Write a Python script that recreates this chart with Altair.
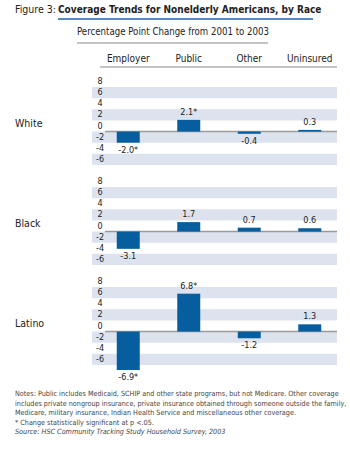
import altair as alt
import pandas as pd

# ---- data ----
categories = ["Employer", "Public", "Other", "Uninsured"]
groups = ["White", "Black", "Latino"]
white_vals = [-2.0, 2.1, -0.4, 0.3]
black_vals = [-3.1, 1.7, 0.7, 0.6]
latino_vals = [-6.9, 6.8, -1.2, 1.3]
white_labels = ["-2.0*", "2.1*", "-0.4", "0.3"]
black_labels = ["-3.1", "1.7", "0.7", "0.6"]
latino_labels = ["-6.9*", "6.8*", "-1.2", "1.3"]
y_ticks = [8, 6, 4, 2, 0, -2, -4, -6]
band_lo = [6, 2, -2, -6]
band_hi = [8, 4, 0, -4]

title_prefix = "Figure 3:"
title_main = "Coverage Trends for Nonelderly Americans, by Race"
subtitle = "Percentage Point Change from 2001 to 2003"
notes_lines = [
    "Notes: Public includes Medicaid, SCHIP and other state programs, but not Medicare. Other coverage",
    "includes private nongroup insurance, private insurance obtained through someone outside the family,",
    "Medicare, military insurance, Indian Health Service and miscellaneous other coverage.",
    "* Change statistically significant at p <.05.",
]
source_line = "Source: HSC Community Tracking Study Household Survey, 2003"

# ---- style ----
FONT = "Liberation Sans Narrow, DejaVu Sans Condensed, Roboto Condensed, Liberation Sans, sans-serif"
BLUE = "#065e9e"
BAND = "#dde3ee"
TXT = "#222222"
W = 350
PH = 78

xscale = alt.Scale(domain=categories, range=[98, 340], paddingInner=0, paddingOuter=0)
yscale = alt.Scale(domain=[-6, 8], nice=False, zero=False)


def panel(name, vals, labs):
    df = pd.DataFrame({"category": categories, "value": vals, "label": labs})
    bands_df = pd.DataFrame({"lo": band_lo, "hi": band_hi})
    ticks_df = pd.DataFrame({"tick": y_ticks, "txt": [str(t) for t in y_ticks]})

    bands = alt.Chart(bands_df).mark_rect(color=BAND).encode(
        y=alt.Y("lo:Q", scale=yscale, axis=None), y2="hi:Q",
        x=alt.value(92), x2=alt.value(337))
    ticks = alt.Chart(ticks_df).mark_text(font=FONT, fontSize=9, color=TXT, dy=-6).encode(
        y=alt.Y("tick:Q", scale=yscale, axis=None), x=alt.value(100), text="txt:N")
    zero = alt.Chart(pd.DataFrame({"z": [0]})).mark_rule(color="#9a9a9a", strokeWidth=1.5).encode(
        y=alt.Y("z:Q", scale=yscale, axis=None), x=alt.value(105), x2=alt.value(337))
    bars = alt.Chart(df).mark_bar(size=23, color=BLUE).encode(
        x=alt.X("category:N", scale=xscale, axis=None, sort=categories),
        y=alt.Y("value:Q", scale=yscale, axis=None), y2=alt.datum(0))
    pos = alt.Chart(df).transform_filter("datum.value >= 0").mark_text(
        font=FONT, fontSize=9, color=TXT, baseline="bottom", dy=-3).encode(
        x=alt.X("category:N", scale=xscale, axis=None, sort=categories),
        y=alt.Y("value:Q", scale=yscale, axis=None), text="label:N")
    neg = alt.Chart(df).transform_filter("datum.value < 0").mark_text(
        font=FONT, fontSize=9, color=TXT, baseline="top", dy=3).encode(
        x=alt.X("category:N", scale=xscale, axis=None, sort=categories),
        y=alt.Y("value:Q", scale=yscale, axis=None), text="label:N")
    row = alt.Chart(pd.DataFrame({"g": [name]})).mark_text(
        font=FONT, fontSize=10.5, color=TXT, align="left", baseline="middle").encode(
        text="g:N", x=alt.value(15), y=alt.value(37))
    return alt.layer(bands, zero, ticks, bars, pos, neg, row).properties(width=W, height=PH)


one = pd.DataFrame({"a": [0]})
hdr_prefix = alt.Chart(one).mark_text(font=FONT, fontSize=10.5, color=TXT, align="left",
                                      baseline="middle", text=title_prefix).encode(
    x=alt.value(15), y=alt.value(10))
hdr_main = alt.Chart(one).mark_text(font=FONT, fontSize=10, fontWeight="bold", color=TXT,
                                    align="left", baseline="middle", text=title_main).encode(
    x=alt.value(58), y=alt.value(10))
hdr_line = alt.Chart(one).mark_rule(color="#1f63a8", strokeWidth=1.5).encode(
    x=alt.value(58), x2=alt.value(313), y=alt.value(19))
sub = alt.Chart(one).mark_text(font=FONT, fontSize=9.6, color=TXT, align="left",
                               baseline="middle", text=subtitle).encode(
    x=alt.value(77), y=alt.value(32))
sub_line = alt.Chart(one).mark_rule(color="#8a8a8a", strokeWidth=1).encode(
    x=alt.value(77), x2=alt.value(268), y=alt.value(43))
cols = alt.Chart(pd.DataFrame({"category": categories})).mark_text(
    font=FONT, fontSize=10, color=TXT, baseline="middle").encode(
    x=alt.X("category:N", scale=xscale, axis=None, sort=categories),
    y=alt.value(59), text="category:N")
col_line = alt.Chart(one).mark_rule(color="#8a8a8a", strokeWidth=1).encode(
    x=alt.value(100), x2=alt.value(337), y=alt.value(67))
header = alt.layer(hdr_prefix, hdr_main, hdr_line, sub, sub_line, cols, col_line).properties(
    width=W, height=65)

notes = alt.Chart(one).mark_text(font=FONT, fontSize=7.2, color="#444444", align="left",
                                 baseline="middle", lineHeight=9.5,
                                 text=notes_lines).encode(
    x=alt.value(15), y=alt.value(7))
source = alt.Chart(one).mark_text(font=FONT, fontSize=7.2, color="#444444", align="left",
                                  baseline="middle", fontStyle="italic",
                                  text=source_line).encode(
    x=alt.value(15), y=alt.value(45))
foot = alt.layer(notes, source).properties(width=W, height=55)

chart = alt.vconcat(
    header,
    panel("White", white_vals, white_labels),
    panel("Black", black_vals, black_labels),
    panel("Latino", latino_vals, latino_labels),
    foot,
    spacing=22, bounds="flush"
).properties(padding=0, background="white").configure_view(stroke=None)

chart.save("out.html", embed_options={"renderer": "svg", "actions": False})
